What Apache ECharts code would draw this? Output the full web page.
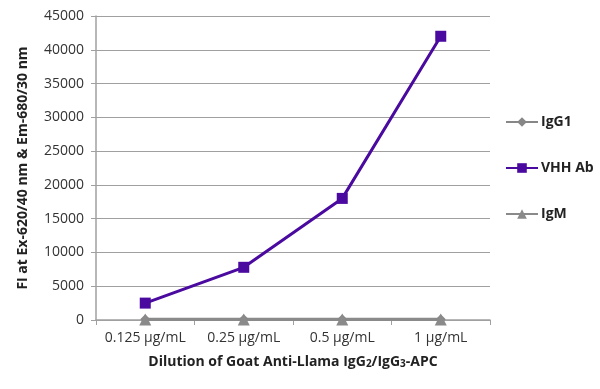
<!DOCTYPE html>
<html><head><meta charset="utf-8">
<script src="https://cdn.jsdelivr.net/npm/echarts@6/dist/echarts.min.js"></script>
<style>html,body{margin:0;padding:0;background:#fff}#c{width:600px;height:389px}</style>
</head><body><div id="c"></div>
<script>
const categories = ['0.125 µg/mL', '0.25 µg/mL', '0.5 µg/mL', '1 µg/mL'];
const igG1 = [100, 100, 100, 100];
const vhhAb = [2500, 7800, 18000, 42000];
const igM = [80, 80, 80, 80];
const yTicks = [0, 5000, 10000, 15000, 20000, 25000, 30000, 35000, 40000, 45000];

const chart = echarts.init(document.getElementById('c'));
const font = '"Open Sans", "Noto Sans", sans-serif';
chart.setOption({
  animation: false,
  textStyle: {fontFamily: font},
  grid: {left: 96, right: 110, top: 16, bottom: 69, containLabel: false},
  legend: {
    orient: 'vertical', left: 500, top: 110, itemGap: 32,
    itemWidth: 32, itemHeight: 12,
    textStyle: {fontFamily: font, fontWeight: 'bold', fontSize: 14, color: '#222', padding: [0,0,0,-2]},
    data: ['IgG1', 'VHH Ab', 'IgM']
  },
  xAxis: {
    type: 'category', data: categories, boundaryGap: true,
    axisLine: {lineStyle: {color: '#a0a0a0', width: 1.5}},
    axisTick: {show: true, length: 5, lineStyle: {color: '#a0a0a0'}},
    axisLabel: {fontSize: 14, color: '#333', margin: 11, fontFamily: font, interval: 0},
    name: '{a|Dilution of Goat Anti-Llama IgG}{s|2}{a|/IgG}{s|3}{a|-APC}',
    nameLocation: 'middle', nameGap: 35,
    nameTextStyle: {
      rich: {
        a: {fontSize: 14, fontWeight: 'bold', color: '#222', fontFamily: font},
        s: {fontSize: 10, fontWeight: 'bold', color: '#222', fontFamily: font, padding: [4, 0, 0, 0]}
      }
    }
  },
  yAxis: {
    type: 'value', min: 0, max: 45000, interval: 5000,
    axisLine: {show: true, lineStyle: {color: '#a0a0a0', width: 1.5}},
    axisTick: {show: true, length: 5, lineStyle: {color: '#a0a0a0'}},
    splitLine: {lineStyle: {color: '#a0a0a0', width: 1}},
    axisLabel: {fontSize: 14, color: '#333', margin: 12, fontFamily: font,
      formatter: v => String(v)},
    name: 'FI at Ex-620/40 nm & Em-680/30 nm',
    nameLocation: 'middle', nameGap: 66,
    nameTextStyle: {fontSize: 14, fontWeight: 'bold', color: '#222', fontFamily: font}
  },
  series: [
    {name: 'IgG1', type: 'line', data: igG1, symbol: 'diamond', symbolSize: 10,
     itemStyle: {color: '#878787'}, lineStyle: {width: 3, color: '#878787'}},
    {name: 'VHH Ab', type: 'line', data: vhhAb, symbol: 'rect', symbolSize: 11,
     itemStyle: {color: '#4a0aa0'}, lineStyle: {width: 3, color: '#4a0aa0'}, z: 5},
    {name: 'IgM', type: 'line', data: igM, symbol: 'triangle', symbolSize: 12,
     itemStyle: {color: '#8a8a8a'}, lineStyle: {width: 3, color: '#8a8a8a'}}
  ]
});
</script></body></html>
